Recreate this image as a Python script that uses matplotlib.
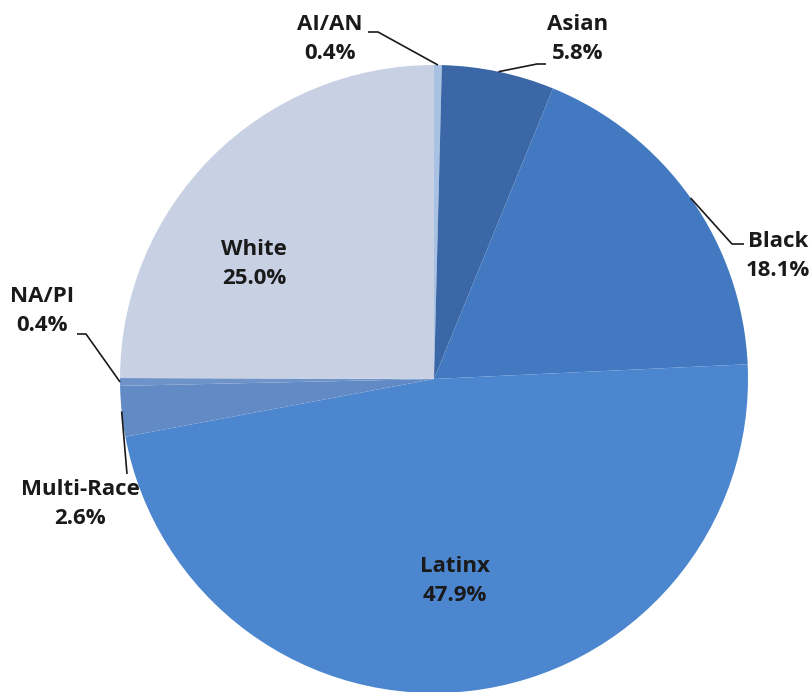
import numpy as np
import matplotlib
matplotlib.use("Agg")
import matplotlib.pyplot as plt

labels = ["AI/AN", "Asian", "Black", "Latinx", "Multi-Race", "NA/PI", "White"]
values = [0.4, 5.8, 18.1, 47.9, 2.6, 0.4, 25.0]
colors = ["#a9c2e4", "#3b67a7", "#4279c0", "#4b86cf", "#628bc6", "#6e93c9", "#c8d1e4"]

W, H = 812, 692
cx, cy, R = 434, H - 379, 314

fig = plt.figure(figsize=(W / 100, H / 100), dpi=100)
ax = fig.add_axes([0, 0, 1, 1])
ax.set_xlim(0, W)
ax.set_ylim(0, H)
ax.set_aspect("equal")
ax.axis("off")

wedges, _ = ax.pie(values, colors=colors, startangle=90, counterclock=False,
                   center=(cx, cy), radius=R, wedgeprops=dict(linewidth=0))
ax.set_xlim(0, W)
ax.set_ylim(0, H)

font = dict(family=["Open Sans", "DejaVu Sans"], fontweight="bold", fontsize=16, color="#1a1a1a")

def txt(name, val, x, y):
    # y in image pixels (top-down)
    ax.text(x, H - y, name + "\n" + "%.1f%%" % val, ha="center", va="center",
            linespacing=1.45, **font)

def anchor(i):
    w = wedges[i]
    a = np.deg2rad((w.theta1 + w.theta2) / 2)
    return cx + R * np.cos(a), cy + R * np.sin(a)

def leader(i, pts):
    x0, y0 = anchor(i)
    xs = [x0] + [p[0] for p in pts]
    ys = [y0] + [H - p[1] for p in pts]
    ax.plot(xs, ys, color="#1a1a1a", lw=1.2, solid_capstyle="butt")

txt("AI/AN", values[0], 330, 39)
leader(0, [(378, 32), (368, 32)])
txt("Asian", values[1], 578, 39)
leader(1, [(537, 64), (546, 64)])
txt("Black", values[2], 778, 256)
leader(2, [(732, 244), (744, 244)])
txt("Latinx", values[3], 455, 581)
txt("Multi-Race", values[4], 80, 504)
leader(4, [(127, 474)])
txt("NA/PI", values[5], 42, 311)
leader(5, [(86, 334), (77, 334)])
txt("White", values[6], 254, 264)

fig.savefig("out.png", dpi=100)
